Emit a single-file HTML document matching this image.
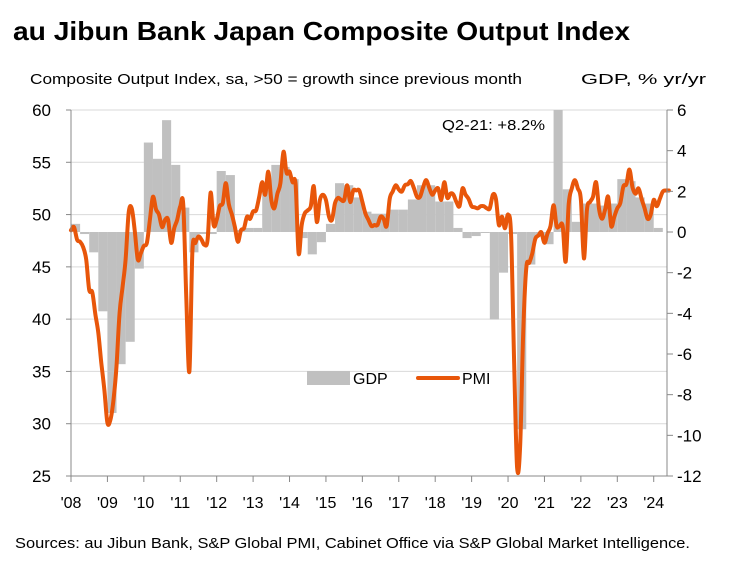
<!DOCTYPE html>
<html><head><meta charset="utf-8"><style>
html,body{margin:0;padding:0;background:#fff;}
svg{display:block;font-family:"Liberation Sans",sans-serif;}
</style></head><body>
<svg id="chart" width="742" height="565" viewBox="0 0 742 565" xmlns="http://www.w3.org/2000/svg">
<text x="13" y="40" font-size="26" font-weight="bold" fill="#000" textLength="617" lengthAdjust="spacingAndGlyphs">au Jibun Bank Japan Composite Output Index</text>
<text x="30" y="84" font-size="15" fill="#000" textLength="492" lengthAdjust="spacingAndGlyphs">Composite Output Index, sa, &gt;50 = growth since previous month</text>
<text x="581" y="84" font-size="15" fill="#000" textLength="125" lengthAdjust="spacingAndGlyphs">GDP, % yr/yr</text>
<g id="grid"></g>
<g id="bars"></g>
<path id="pmi" fill="none" stroke="#e8560a" stroke-width="4" stroke-linejoin="round" stroke-linecap="round"></path>
<g id="axes"></g>
<text x="442" y="130" font-size="15" fill="#000" textLength="103" lengthAdjust="spacingAndGlyphs">Q2-21: +8.2%</text>
<g>
<rect x="307" y="371" width="43" height="14" fill="#c0c0c0"/>
<text x="353" y="384" font-size="16" fill="#000">GDP</text>
<line x1="418" y1="378" x2="458" y2="378" stroke="#e8560a" stroke-width="4" stroke-linecap="round"/>
<text x="462" y="384" font-size="16" fill="#000">PMI</text>
</g>
<text x="15" y="548" font-size="15" fill="#000" textLength="675" lengthAdjust="spacingAndGlyphs">Sources: au Jibun Bank, S&amp;P Global PMI, Cabinet Office via S&amp;P Global Market Intelligence.</text>
</svg>
<script>
const leftTicks = [60,55,50,45,40,35,30,25];
const rightTicks = [6,4,2,0,-2,-4,-6,-8,-10,-12];
const yearLabels = ["'08","'09","'10","'11","'12","'13","'14","'15","'16","'17","'18","'19","'20","'21","'22","'23","'24"];
const pmi = [
48.5,48.8,47.6,47.4,46.9,45.7,42.8,42.6,40.5,38.7,35.8,33.2,
30.1,30.4,32.3,35.5,40.6,43.1,45.7,50.2,50.6,48.5,45.7,46.3,
47.0,47.3,49.5,51.7,50.5,50.0,48.8,49.5,49.5,47.3,48.7,49.5,
50.8,50.9,42.0,35.0,46.5,47.3,47.9,47.6,47.1,47.6,52.1,49.0,
49.5,50.8,51.1,53.0,51.0,50.0,48.8,47.4,48.5,48.7,49.8,49.6,
50.3,50.4,51.7,53.1,51.9,54.1,51.4,50.6,52.0,53.0,56.0,54.0,
54.1,53.1,52.9,46.3,49.0,50.1,50.4,50.8,52.7,49.3,51.4,51.9,
51.4,49.8,49.5,51.1,51.6,51.4,51.4,52.8,51.2,52.3,52.3,52.3,
51.2,50.1,49.5,48.9,49.0,49.0,49.8,49.6,48.9,51.5,52.2,52.8,
52.4,52.2,52.8,52.9,53.2,52.5,51.7,51.7,52.6,53.3,52.6,51.9,
52.3,52.5,51.4,53.1,51.6,52.0,51.9,51.2,50.8,52.5,51.9,51.5,
50.8,50.7,50.6,50.8,50.8,50.6,50.6,51.9,51.5,49.0,49.8,48.7,
50.0,48.0,36.0,25.8,28.0,38.7,44.9,45.4,46.3,47.7,48.0,48.3,
47.3,48.2,48.9,50.9,48.9,48.9,48.9,45.5,51.0,52.5,53.3,52.5,
51.4,45.8,50.5,51.2,51.7,53.1,50.5,49.6,50.5,51.7,48.9,49.8,
50.6,51.1,52.7,52.9,54.3,52.6,52.0,52.5,51.5,50.6,49.6,50.0,
51.4,50.8,51.5,52.2,52.3,52.3];
const gdp = [
0.4,-0.1,-1.0,-3.9,
-8.9,-6.5,-5.4,-1.8,
4.4,3.6,5.5,3.3,
1.2,-1.0,-0.1,-0.1,
3.0,2.8,0.1,0.2,
0.2,2.1,3.3,3.2,
2.6,-0.3,-1.1,-0.5,
0.4,2.4,2.3,1.7,
1.0,0.9,0.9,1.1,
1.1,1.6,2.3,2.3,
1.5,1.5,0.2,-0.3,
-0.2,0.0,-4.3,-2.0,
-0.1,-9.7,-1.6,-0.2,
-0.6,8.2,2.1,0.5,
1.4,1.4,1.3,1.4,
2.6,2.5,1.7,1.4,
0.2];
const NS='http://www.w3.org/2000/svg';
const X0=71, X1=667, Y0=110, Y1=476, MPX=3.035;
const xM = m => X0 + m*MPX;
const yL = v => Y0 + (60 - v)*(Y1-Y0)/35;
const yR = v => Y0 + (6 - v)*(Y1-Y0)/18;
function mk(tag, attrs, parent){const e=document.createElementNS(NS,tag);for(const k in attrs)e.setAttribute(k,attrs[k]);parent.appendChild(e);return e;}
const grid=document.getElementById('grid'), axes=document.getElementById('axes'), bars=document.getElementById('bars');
leftTicks.forEach(t=>{
  const y=yL(t);
  const g=mk('line',{x1:X0,x2:X1,y1:y,y2:y,stroke:'#d9d9d9','stroke-width':1},grid);
  
  
  const tk=mk('line',{x1:X0-5,x2:X0,y1:y,y2:y,stroke:'#888'},axes);
  
  
  const tx=mk('text',{x:51,y:y+6,'font-size':17,'text-anchor':'end',fill:'#000'},axes);
  tx.textContent=t;
  
  
});
rightTicks.forEach(t=>{
  const y=yR(t);
  const tk=mk('line',{x1:X1,x2:X1+6,y1:y,y2:y,stroke:'#888'},axes);
  
  
  const tx=mk('text',{x:677,y:y+6,'font-size':17,fill:'#000'},axes);
  tx.textContent=t;
  
  
});
const la=mk('line',{x1:X0,x2:X0,y1:Y0,y2:Y1,stroke:'#888'},axes);


const ra=mk('line',{x1:X1,x2:X1,y1:Y0,y2:Y1,stroke:'#888'},axes);


const ba=mk('line',{x1:X0,x2:X1,y1:Y1,y2:Y1,stroke:'#888'},axes);


yearLabels.forEach((l,i)=>{
  const x=xM(i*12);
  const tk=mk('line',{x1:x,x2:x,y1:Y1,y2:Y1+6,stroke:'#888'},axes);
  
  
  const tx=mk('text',{x:x,y:508,'font-size':16,'text-anchor':'middle',fill:'#000'},axes);
  tx.textContent=l;
  
  
});
const z=yR(0);
gdp.forEach((v,q)=>{
  const x=xM(q*3), w=xM(q*3+3)-x;
  let y=yR(Math.min(v,6)); if(y<Y0)y=Y0;
  const r=mk('rect',{x:x,width:w,y:Math.min(y,z),height:Math.max(Math.abs(y-z),1),fill:'#c0c0c0'},bars);
  
  
});
const pts=pmi.map((v,i)=>[xM(i),yL(v)]);
let d='M'+pts[0][0].toFixed(1)+','+pts[0][1].toFixed(1);
for(let i=0;i<pts.length-1;i++){
  const p0=pts[Math.max(i-1,0)],p1=pts[i],p2=pts[i+1],p3=pts[Math.min(i+2,pts.length-1)];
  const t=6;
  const c1=[p1[0]+(p2[0]-p0[0])/t,p1[1]+(p2[1]-p0[1])/t];
  const c2=[p2[0]-(p3[0]-p1[0])/t,p2[1]-(p3[1]-p1[1])/t];
  d+='C'+c1.map(n=>n.toFixed(1)).join(',')+' '+c2.map(n=>n.toFixed(1)).join(',')+' '+p2.map(n=>n.toFixed(1)).join(',');
}
document.getElementById('pmi').setAttribute('d',d);
</script>
</body></html>
